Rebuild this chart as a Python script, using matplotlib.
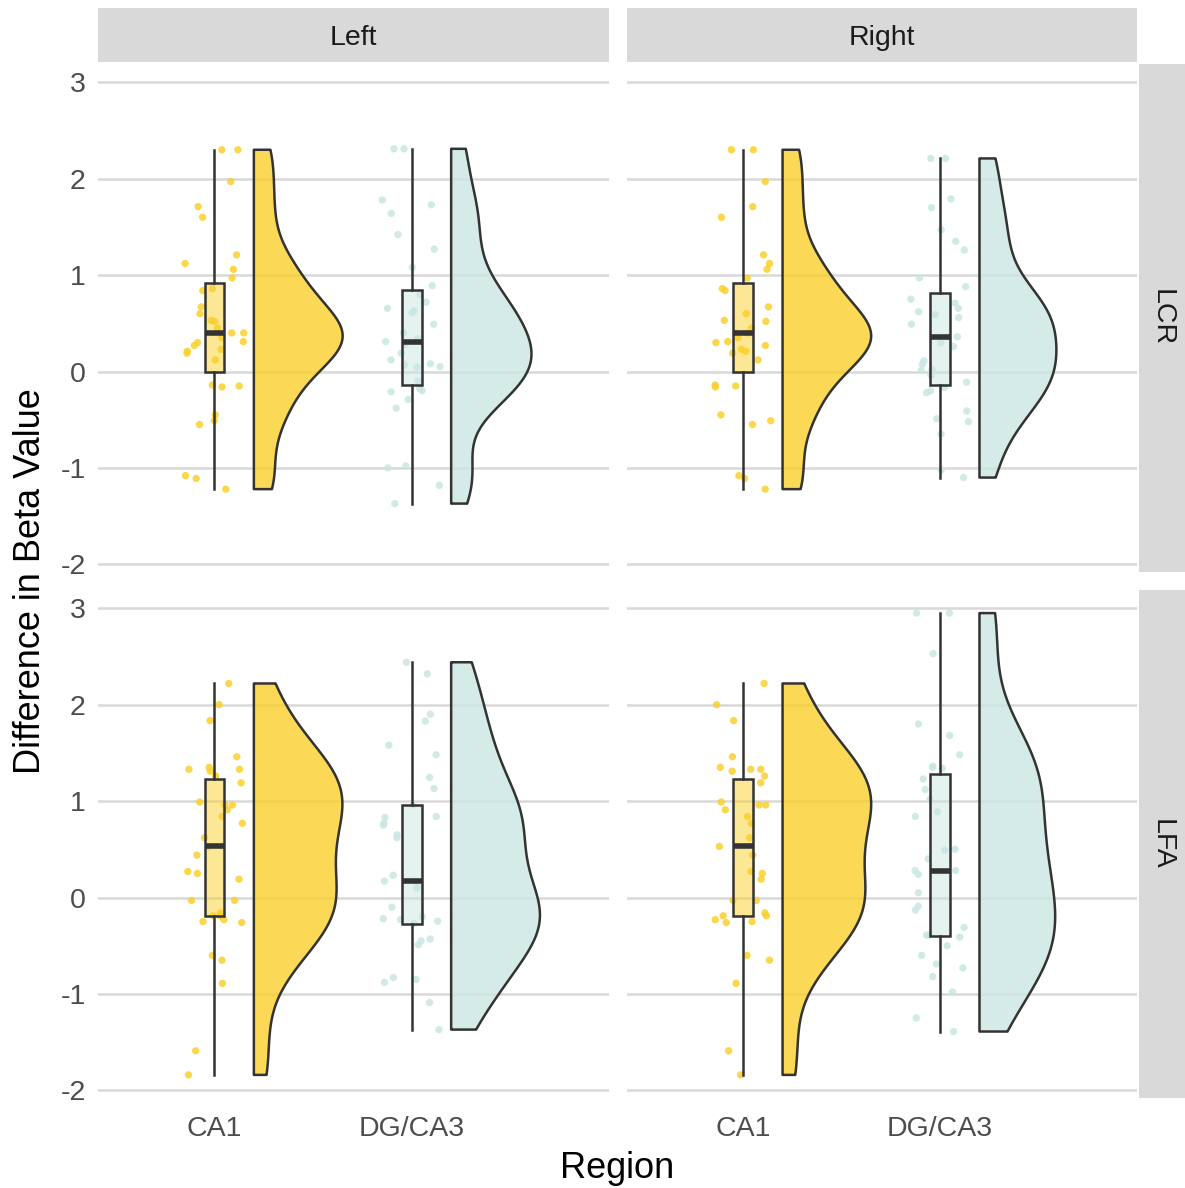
import numpy as np
import matplotlib
matplotlib.use("Agg")
import matplotlib.pyplot as plt

plt.rcParams['font.family'] = ['Liberation Sans', 'DejaVu Sans']

# ---------------- data ----------------
hemispheres = ["Left", "Right"]
conditions = ["LCR", "LFA"]
regions = ["CA1", "DG/CA3"]
y_ticks = [-2, -1, 0, 1, 2, 3]

ca1_lcr = [2.30, 2.30, 1.97, 1.71, 1.60, 1.21, 1.12, 1.06, 0.97, 0.86, 0.84,
           0.67, 0.60, 0.53, 0.52, 0.45, 0.40, 0.40, 0.35, 0.31, 0.30, 0.27,
           0.23, 0.21, 0.19, 0.12, -0.14, -0.15, -0.16, -0.45, -0.51, -0.55,
           -1.08, -1.11, -1.22]
dg_lcr_left = [2.31, 2.31, 1.78, 1.73, 1.64, 1.42, 1.27, 1.08, 0.89, 0.80,
               0.72, 0.655, 0.63, 0.61, 0.49, 0.40, 0.34, 0.31, 0.28, 0.19,
               0.12, 0.08, 0.07, 0.05, 0.045, -0.10, -0.18, -0.20, -0.21,
               -0.29, -0.38, -0.98, -1.00, -1.18, -1.37]
dg_lcr_right = [2.21, 2.21, 1.79, 1.70, 1.47, 1.35, 1.26, 0.97, 0.88, 0.75,
                0.71, 0.655, 0.62, 0.59, 0.56, 0.49, 0.36, 0.36, 0.30, 0.26,
                0.11, 0.076, 0.02, 0.01, -0.04, -0.11, -0.165, -0.20, -0.22,
                -0.41, -0.49, -0.52, -0.65, -1.02, -1.10]
ca1_lfa = [2.22, 2.00, 1.835, 1.46, 1.35, 1.33, 1.33, 1.31, 1.26, 1.19, 0.99,
           0.96, 0.96, 0.91, 0.84, 0.77, 0.62, 0.53, 0.44, 0.27, 0.25, 0.19,
           -0.03, -0.03, -0.16, -0.19, -0.19, -0.23, -0.25, -0.26, -0.60,
           -0.65, -0.89, -1.59, -1.84]
dg_lfa_left = [2.44, 2.32, 1.90, 1.83, 1.58, 1.48, 1.245, 1.13, 0.96, 0.84,
               0.83, 0.77, 0.75, 0.65, 0.62, 0.23, 0.17, 0.17, 0.10, -0.10,
               -0.20, -0.22, -0.23, -0.245, -0.27, -0.43, -0.45, -0.49, -0.83,
               -0.85, -0.88, -1.09, -1.37]
dg_lfa_right = [2.95, 2.95, 2.53, 1.80, 1.68, 1.48, 1.36, 1.35, 1.34, 1.23,
                1.12, 1.02, 0.89, 0.84, 0.50, 0.49, 0.40, 0.28, 0.28, 0.24,
                0.05, -0.09, -0.13, -0.31, -0.39, -0.39, -0.41, -0.50, -0.60,
                -0.69, -0.73, -0.82, -0.98, -1.25, -1.39]

panel_data = {
    ("LCR", "Left"): [ca1_lcr, dg_lcr_left],
    ("LCR", "Right"): [ca1_lcr, dg_lcr_right],
    ("LFA", "Left"): [ca1_lfa, dg_lfa_left],
    ("LFA", "Right"): [ca1_lfa, dg_lfa_right],
}

# ---------------- styles ----------------
base_colors = ["#FAD02C", "#CAE7E3"]
line_col = "#333333"
grid_col = "#D9D9D9"
strip_col = "#D9D9D9"

W, H = 1185, 1188
fig = plt.figure(figsize=(W / 100, H / 100), dpi=100)


def rect(x0, y0, x1, y1):
    return [x0 / W, 1 - y1 / H, (x1 - x0) / W, (y1 - y0) / H]


col_x = [(98, 609), (627, 1137)]
row_y = [(64, 572), (590, 1098)]

allv = np.concatenate([np.asarray(v) for vals in panel_data.values() for v in vals])
rng_y = allv.max() - allv.min()
ylim = (allv.min() - 0.05 * rng_y, allv.max() + 0.05 * rng_y)


def nrd0(x):
    x = np.asarray(x)
    sd = np.std(x, ddof=1)
    q75, q25 = np.percentile(x, [75, 25])
    lo = min(sd, (q75 - q25) / 1.34)
    return 0.9 * lo * len(x) ** (-0.2)


def kde(x):
    x = np.asarray(x)
    bw = nrd0(x)
    grid = np.linspace(x.min(), x.max(), 512)
    z = (grid[:, None] - x[None, :]) / bw
    d = np.exp(-0.5 * z ** 2).sum(axis=1) / (len(x) * bw * np.sqrt(2 * np.pi))
    return grid, d


rng = np.random.default_rng(7)

for r, cond in enumerate(conditions):
    for c, hemi in enumerate(hemispheres):
        ax = fig.add_axes(rect(col_x[c][0], row_y[r][0], col_x[c][1], row_y[r][1]))
        groups = panel_data[(cond, hemi)]
        dens = [kde(g) for g in groups]
        dmax = max(d.max() for _, d in dens)
        for i, g in enumerate(groups):
            pos = i + 1
            g = np.asarray(g)
            # half violin (nudged right)
            grid, d = dens[i]
            base = pos + 0.2
            ax.fill_betweenx(grid, base, base + d / dmax * 0.45,
                             facecolor=base_colors[i], alpha=0.8,
                             edgecolor="none", zorder=2)
            ax.fill_betweenx(grid, base, base + d / dmax * 0.45,
                             facecolor="none", edgecolor=line_col,
                             linewidth=1.8, zorder=3)
            # jittered points
            jit = rng.uniform(-0.15, 0.15, len(g))
            ax.scatter(pos + jit, g, s=28, color=base_colors[i], alpha=0.85,
                       edgecolors="none", zorder=3)
            # boxplot
            ax.boxplot([g], positions=[pos], widths=0.1, whis=1.5,
                       showfliers=False, showcaps=False, patch_artist=True,
                       manage_ticks=False,
                       boxprops=dict(facecolor=matplotlib.colors.to_rgba(base_colors[i], 0.5),
                                     edgecolor=line_col, linewidth=1.8),
                       whiskerprops=dict(color=line_col, linewidth=1.8),
                       medianprops=dict(color=line_col, linewidth=4.0,
                                        solid_capstyle="butt"),
                       zorder=4)
        ax.set_xlim(0.41, 3.0)
        ax.set_ylim(*ylim)
        ax.set_yticks(y_ticks)
        ax.set_xticks([1, 2])
        for s in ax.spines.values():
            s.set_visible(False)
        ax.yaxis.grid(True, color=grid_col, linewidth=1.8)
        ax.xaxis.grid(False)
        ax.set_axisbelow(True)
        ax.tick_params(axis="y", length=0, labelsize=20.5, labelcolor="#4D4D4D", pad=9)
        ax.tick_params(axis="x", length=0, labelsize=20.5, labelcolor="#4D4D4D", pad=13)
        if c == 0:
            ax.set_yticklabels([str(t) for t in y_ticks])
        else:
            ax.set_yticklabels([])
        if r == 1:
            ax.set_xticklabels(regions)
        else:
            ax.set_xticklabels([])

# strips
for c, hemi in enumerate(hemispheres):
    sa = fig.add_axes(rect(col_x[c][0], 8, col_x[c][1], 62))
    sa.set_facecolor(strip_col)
    sa.set_xticks([]); sa.set_yticks([])
    for s in sa.spines.values():
        s.set_visible(False)
    sa.text(0.5, 0.45, hemi, ha="center", va="center", fontsize=20.5,
            color="#1A1A1A", transform=sa.transAxes)

for r, cond in enumerate(conditions):
    sa = fig.add_axes(rect(1139, row_y[r][0], 1185, row_y[r][1]))
    sa.set_facecolor(strip_col)
    sa.set_xticks([]); sa.set_yticks([])
    for s in sa.spines.values():
        s.set_visible(False)
    sa.text(0.5, 0.5, cond, ha="center", va="center", fontsize=20.5,
            color="#1A1A1A", rotation=-90, transform=sa.transAxes)

fig.text(31 / W, 1 - 581 / H, "Difference in Beta Value", rotation=90,
         ha="center", va="center", fontsize=26, color="black")
fig.text(617.5 / W, 1 - 1169 / H, "Region", ha="center", va="center",
         fontsize=26, color="black")

fig.savefig("out.png", dpi=100)
